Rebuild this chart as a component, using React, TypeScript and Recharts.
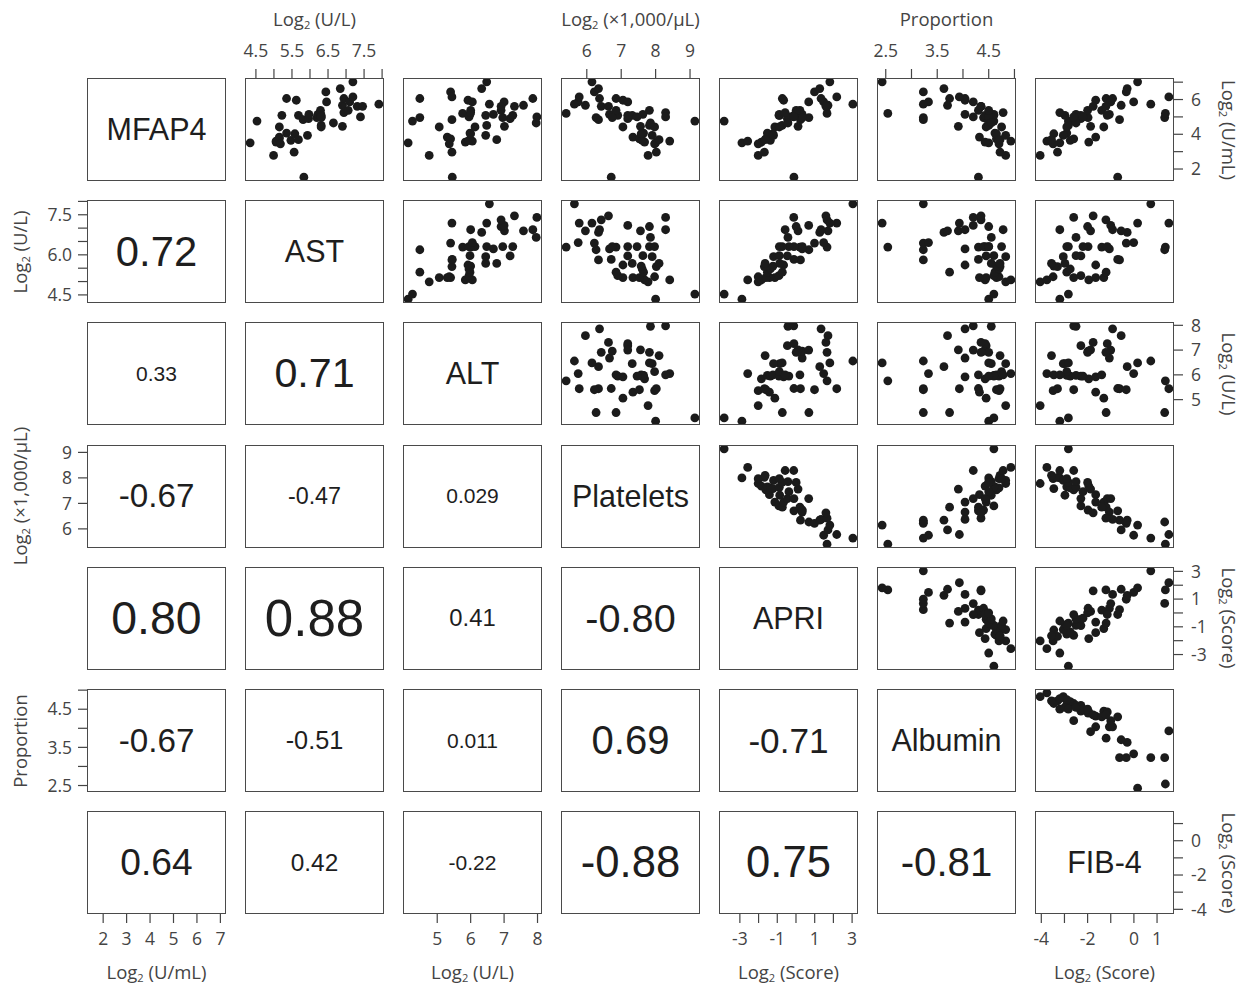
import React from "react";
import { ScatterChart, Scatter, XAxis, YAxis } from "recharts";

const variables = ["MFAP4", "AST", "ALT", "Platelets", "APRI", "Albumin", "FIB-4"];
const units = ["Log2 (U/mL)", "Log2 (U/L)", "Log2 (U/L)", "Log2 (×1,000/μL)", "Log2 (Score)", "Proportion", "Log2 (Score)"];

// one value per patient, same patient order in every array
const mfap4 = [3.51, 4.76, 2.78, 3.55, 3.61, 4.42, 3.84, 3.74, 3.45, 5.09, 6.06, 4.07, 3.65, 2.97, 4.03, 5.96, 5.09, 3.69, 4.84, 1.53, 3.94, 4.9, 5.15, 4.96, 5.15, 5.2, 5.38, 4.96, 5.09, 5.0, 4.51, 4.42, 6.44, 5.86, 4.65, 6.63, 5.67, 4.46, 6.06, 5.25, 5.38, 5.86, 6.15, 7.02, 5.61, 5.0, 5.61, 5.73];
const ast = [4.34, 4.53, 4.99, 5.06, 5.06, 5.15, 5.15, 5.15, 5.18, 5.22, 5.35, 5.35, 5.47, 5.56, 5.58, 5.62, 5.68, 5.68, 5.81, 5.83, 5.93, 5.96, 5.97, 6.19, 6.22, 6.29, 6.29, 6.31, 6.31, 6.31, 6.31, 6.31, 6.44, 6.46, 6.65, 6.84, 6.9, 6.9, 6.94, 6.94, 7.06, 7.1, 7.19, 7.19, 7.31, 7.4, 7.46, 7.91];
const alt = [4.13, 4.26, 4.76, 5.84, 6.05, 5.06, 5.3, 5.4, 5.36, 5.95, 4.48, 5.98, 5.95, 5.44, 6.0, 5.92, 6.45, 6.78, 5.44, 5.45, 6.45, 7.18, 5.98, 4.48, 6.68, 5.76, 6.0, 6.96, 7.26, 5.95, 6.48, 6.13, 5.4, 6.05, 7.96, 6.33, 7.58, 7.01, 7.86, 6.0, 6.91, 7.0, 5.44, 6.48, 6.91, 7.98, 7.31, 6.56];
const platelets = [8.0, 9.14, 7.78, 7.68, 8.41, 7.05, 7.34, 7.53, 7.97, 6.9, 6.85, 7.65, 7.61, 8.02, 7.58, 7.05, 7.32, 8.1, 6.34, 6.71, 7.9, 7.19, 7.63, 6.27, 6.66, 5.4, 6.85, 6.74, 7.19, 7.46, 7.82, 7.97, 6.22, 5.75, 7.85, 6.34, 5.96, 7.56, 6.37, 8.29, 7.82, 7.19, 5.78, 6.15, 6.42, 8.29, 6.63, 5.64];
const apri = [-2.89, -3.84, -2.02, -1.85, -2.58, -1.13, -1.42, -1.61, -2.02, -0.91, -0.73, -1.53, -1.37, -1.69, -1.23, -0.66, -0.87, -1.65, 0.24, -0.11, -1.2, -0.46, -0.89, 0.69, 0.33, 1.66, 0.21, 0.34, -0.11, -0.38, -0.74, -0.89, 0.99, 1.48, -0.43, 1.27, 1.71, 0.11, 1.34, -0.58, 0.01, 0.68, 2.18, 1.81, 1.66, -0.12, 1.6, 3.04];
const albumin = [4.5, 4.6, 4.83, 4.43, 4.93, 4.45, 4.32, 4.65, 4.7, 4.6, 3.74, 4.62, 4.7, 4.72, 4.65, 4.04, 4.55, 4.72, 3.23, 4.3, 4.83, 4.45, 4.6, 3.23, 4.04, 2.54, 4.3, 4.4, 4.43, 4.5, 4.5, 4.75, 3.23, 3.33, 4.55, 3.63, 3.7, 3.91, 4.04, 4.78, 4.5, 4.2, 3.93, 2.43, 4.35, 4.2, 4.35, 3.23];
const fib4 = [-3.2, -2.83, -4.05, -1.95, -3.76, -1.3, -1.65, -2.6, -3.49, -2.29, -1.2, -2.9, -2.75, -3.3, -3.46, -1.65, -2.98, -3.56, -0.62, -0.7, -3.05, -2.29, -2.5, 1.33, -1.06, 1.36, -1.39, -1.98, -1.15, -2.2, -2.83, -2.9, -0.33, -0.01, -2.5, -0.29, -0.55, -1.87, -0.92, -3.2, -2.0, -1.0, 1.51, 0.16, -1.21, -2.6, -1.76, 0.73];

const series = [mfap4, ast, alt, platelets, apri, albumin, fib4];

// printed correlation coefficients, lower triangle
const correlations = [
  [],
  ["0.72"],
  ["0.33", "0.71"],
  ["-0.67", "-0.47", "0.029"],
  ["0.80", "0.88", "0.41", "-0.80"],
  ["-0.67", "-0.51", "0.011", "0.69", "-0.71"],
  ["0.64", "0.42", "-0.22", "-0.88", "0.75", "-0.81"],
];

const ticks = [
  [2, 3, 4, 5, 6, 7],
  [4.5, 5, 5.5, 6, 6.5, 7, 7.5, 8],
  [5, 6, 7, 8],
  [6, 7, 8, 9],
  [-3, -2, -1, 0, 1, 2, 3],
  [2.5, 3, 3.5, 4, 4.5, 5],
  [-4, -3, -2, -1, 0, 1],
];
// labels on the horizontal axes (top / bottom)
const xTickLabels = [
  ["2", "3", "4", "5", "6", "7"],
  ["4.5", "", "5.5", "", "6.5", "", "7.5", ""],
  ["5", "6", "7", "8"],
  ["6", "7", "8", "9"],
  ["-3", "", "-1", "", "1", "", "3"],
  ["2.5", "", "3.5", "", "4.5", ""],
  ["-4", "", "-2", "", "0", "1"],
];
// labels on the vertical axes (left / right)
const yTickLabels = [
  ["2", "", "4", "", "6", ""],
  ["4.5", "", "", "6.0", "", "", "7.5", ""],
  ["5", "6", "7", "8"],
  ["6", "7", "8", "9"],
  ["-3", "", "-1", "", "1", "", "3"],
  ["2.5", "", "3.5", "", "4.5", ""],
  ["-4", "", "-2", "", "0", ""],
];

const PANEL_W = 139;
const PANEL_H = 103;
const LEFT0 = 87;
const TOP0 = 78;
const STEP_X = 158;
const STEP_Y = 122.2;
const AXIS_ROOM = 46;
const M = 14; // spare room so edge tick labels are not clipped

const AXIS_FONT = "'Open Sans', sans-serif";
const AXIS_COLOR = "#444";
const PANEL_FONT = "'Liberation Sans', Arial, sans-serif";

// R pairs(): data range stretched by 4% on each side
const domains = series.map((s) => {
  const lo = Math.min(...s);
  const hi = Math.max(...s);
  const pad = (hi - lo) * 0.04;
  return [lo - pad, hi + pad] as [number, number];
});

const EM: Record<string, number> = { "-": 0.333, ".": 0.278 };
function corFontSize(label: string) {
  const w = label.split("").reduce((acc, ch) => acc + (EM[ch] ?? 0.556), 0);
  return Math.max(21, (113 * Math.abs(parseFloat(label))) / w);
}

function Unit({ text }: { text: string }) {
  if (text.startsWith("Log2")) {
    return (
      <>
        Log<sub style={{ fontSize: "0.6em", verticalAlign: "-0.25em" }}>2</sub>
        {text.slice(4)}
      </>
    );
  }
  return <>{text}</>;
}

const dot = (p: any) => <circle cx={p.cx} cy={p.cy} r={4.4} fill="#1b1b1b" />;

function Panel({ row, col }: { row: number; col: number }) {
  const showTop = row === 0 && col % 2 === 1;
  const showBottom = row === 6 && col % 2 === 0;
  const showLeft = col === 0 && row % 2 === 1;
  const showRight = col === 6 && row % 2 === 0;
  const padT = showTop ? AXIS_ROOM : 0;
  const padB = showBottom ? AXIS_ROOM : 0;
  const padL = showLeft ? AXIS_ROOM : 0;
  const padR = showRight ? AXIS_ROOM : 0;
  const x0 = LEFT0 + STEP_X * col;
  const y0 = TOP0 + STEP_Y * row;

  const data =
    row < col ? series[col].map((x, i) => ({ x, y: series[row][i] })) : [];

  const tickStyle = { fill: AXIS_COLOR, fontSize: 17.5, fontFamily: AXIS_FONT };
  const xt = ticks[col];
  const yt = ticks[row];

  let text: string | null = null;
  let fontSize = 30.5;
  if (row === col) text = variables[row];
  if (row > col) {
    text = correlations[row][col];
    fontSize = corFontSize(text);
  }

  return (
    <>
      <div style={{ position: "absolute", left: x0 - padL - M, top: y0 - padT - M }}>
        <ScatterChart
          width={PANEL_W + padL + padR + 2 * M}
          height={PANEL_H + padT + padB + 2 * M}
          margin={{ top: M, right: M, bottom: M, left: M }}
        >
          <XAxis
            type="number"
            dataKey="x"
            domain={domains[col]}
            allowDataOverflow
            hide={!(showTop || showBottom)}
            orientation={showTop ? "top" : "bottom"}
            height={AXIS_ROOM}
            ticks={xt}
            interval={0}
            tickFormatter={(v: number) => xTickLabels[col][xt.indexOf(v)] ?? ""}
            tickSize={9}
            tickMargin={showTop ? 12 : 10}
            axisLine={false}
            tickLine={{ stroke: "#444", strokeWidth: 1.2 }}
            tick={tickStyle}
          />
          <YAxis
            type="number"
            dataKey="y"
            domain={domains[row]}
            allowDataOverflow
            hide={!(showLeft || showRight)}
            orientation={showLeft ? "left" : "right"}
            width={AXIS_ROOM}
            ticks={yt}
            interval={0}
            tickFormatter={(v: number) => yTickLabels[row][yt.indexOf(v)] ?? ""}
            tickSize={9}
            tickMargin={showRight ? 8 : 6}
            axisLine={false}
            tickLine={{ stroke: "#444", strokeWidth: 1.2 }}
            tick={tickStyle}
          />
          <Scatter data={data} isAnimationActive={false} shape={dot} />
        </ScatterChart>
      </div>
      <div
        style={{
          position: "absolute",
          left: x0,
          top: y0,
          width: PANEL_W,
          height: PANEL_H,
          border: "1.4px solid #4a4a4a",
          boxSizing: "border-box",
          display: "flex",
          alignItems: "center",
          justifyContent: "center",
          fontFamily: PANEL_FONT,
          fontSize,
          color: "#1e1e1e",
          pointerEvents: "none",
        }}
      >
        {text}
      </div>
    </>
  );
}

function AxisTitle({ index, side }: { index: number; side: "top" | "bottom" | "left" | "right" }) {
  const base: React.CSSProperties = {
    position: "absolute",
    width: 220,
    height: 24,
    lineHeight: "24px",
    textAlign: "center",
    fontFamily: AXIS_FONT,
    fontSize: 18.5,
    color: AXIS_COLOR,
    whiteSpace: "nowrap",
  };
  let cx = 0;
  let cy = 0;
  let rot = 0;
  if (side === "top" || side === "bottom") {
    cx = LEFT0 + STEP_X * index + PANEL_W / 2;
    cy = side === "top" ? 19 : 972;
  } else {
    cy = TOP0 + STEP_Y * index + PANEL_H / 2;
    cx = side === "left" ? 20 : 1229;
    rot = side === "left" ? -90 : 90;
  }
  return (
    <div
      style={{
        ...base,
        left: cx - 110,
        top: cy - 12,
        transform: rot ? `rotate(${rot}deg)` : undefined,
      }}
    >
      <Unit text={units[index]} />
    </div>
  );
}

export default function App() {
  const cells: React.ReactNode[] = [];
  for (let r = 0; r < 7; r++) {
    for (let c = 0; c < 7; c++) {
      cells.push(<Panel key={`${r}-${c}`} row={r} col={c} />);
    }
  }
  return (
    <div
      style={{
        position: "absolute",
        left: 0,
        top: 0,
        width: 1248,
        height: 986,
        background: "#fff",
        overflow: "hidden",
      }}
    >
      {cells}
      {[1, 3, 5].map((k) => (
        <AxisTitle key={`t${k}`} index={k} side="top" />
      ))}
      {[0, 2, 4, 6].map((k) => (
        <AxisTitle key={`b${k}`} index={k} side="bottom" />
      ))}
      {[1, 3, 5].map((k) => (
        <AxisTitle key={`l${k}`} index={k} side="left" />
      ))}
      {[0, 2, 4, 6].map((k) => (
        <AxisTitle key={`r${k}`} index={k} side="right" />
      ))}
    </div>
  );
}
